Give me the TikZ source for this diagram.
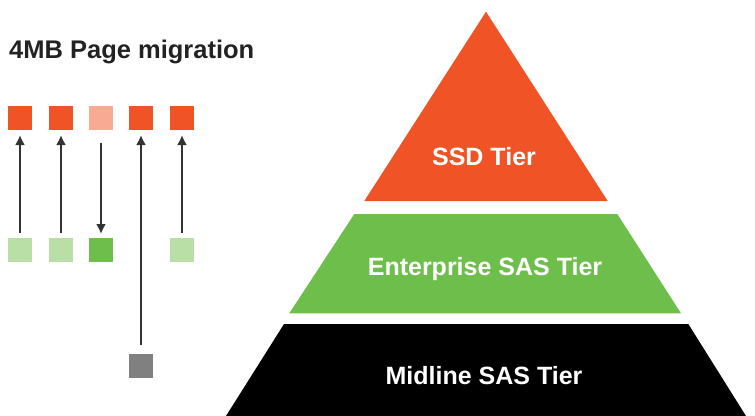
\documentclass[tikz,border=0pt]{standalone}
\usepackage{fontspec}
\setmainfont{Liberation Sans}
\usetikzlibrary{arrows.meta}
\definecolor{cOrange}{HTML}{F05325}
\definecolor{cLOrange}{HTML}{F8AA92}
\definecolor{cGreen}{HTML}{6EBE4B}
\definecolor{cLGreen}{HTML}{B9DFA7}
\definecolor{cGray}{HTML}{808080}
\definecolor{cTitle}{HTML}{222222}
\tikzset{
  blk/.style={minimum size=24pt, inner sep=0pt, outer sep=0pt},
  mig/.style={draw=black!80, line width=2pt, -{Latex[length=10pt,width=10pt]}},
  tiertext/.style={text=white, font=\fontsize{25}{28}\selectfont\bfseries, inner sep=0pt, anchor=base},
}
\begin{document}
\begin{tikzpicture}[x=1pt, y=-1pt]
\useasboundingbox (0,0) rectangle (755,415);
% title
\node[anchor=base west, inner sep=0pt, text=cTitle, font=\fontsize{25.5}{28}\selectfont\bfseries] (title) at (9,58) {4MB Page migration};
% top squares
\node[blk, fill=cOrange] (t1) at (20,118) {};
\node[blk, fill=cOrange] (t2) at (61,118) {};
\node[blk, fill=cLOrange] (t3) at (101,118) {};
\node[blk, fill=cOrange] (t4) at (141,118) {};
\node[blk, fill=cOrange] (t5) at (182,118) {};
% bottom squares
\node[blk, fill=cLGreen] (b1) at (20,250) {};
\node[blk, fill=cLGreen] (b2) at (61,250) {};
\node[blk, fill=cGreen] (b3) at (101,250) {};
\node[blk, fill=cLGreen] (b5) at (182,250) {};
\node[blk, fill=cGray] (g4) at (141,366) {};
% arrows
\draw[mig] ([yshift=5pt]b1.north) -- ([yshift=-5pt]t1.south);
\draw[mig] ([yshift=5pt]b2.north) -- ([yshift=-5pt]t2.south);
\draw[mig] ([yshift=-13pt]t3.south) -- ([yshift=4pt]b3.north);
\draw[mig] ([yshift=9pt]g4.north) -- ([yshift=-5pt]t4.south);
\draw[mig] ([yshift=5pt]b5.north) -- ([yshift=-5pt]t5.south);
% pyramid
\fill[cOrange] (486,11.7) -- (607.7,201) -- (364.3,201) -- cycle;
\fill[cGreen] (354.3,214) -- (617.3,214) -- (681,313.3) -- (289.3,313.3) -- cycle;
\fill[black] (284,324) -- (688.3,324) -- (746,416) -- (226,416) -- cycle;
\node[tiertext] (ssd) at (484,165) {SSD Tier};
\node[tiertext] (ent) at (485,275) {Enterprise SAS Tier};
\node[tiertext] (mid) at (484,384) {Midline SAS Tier};
\end{tikzpicture}
\end{document}
